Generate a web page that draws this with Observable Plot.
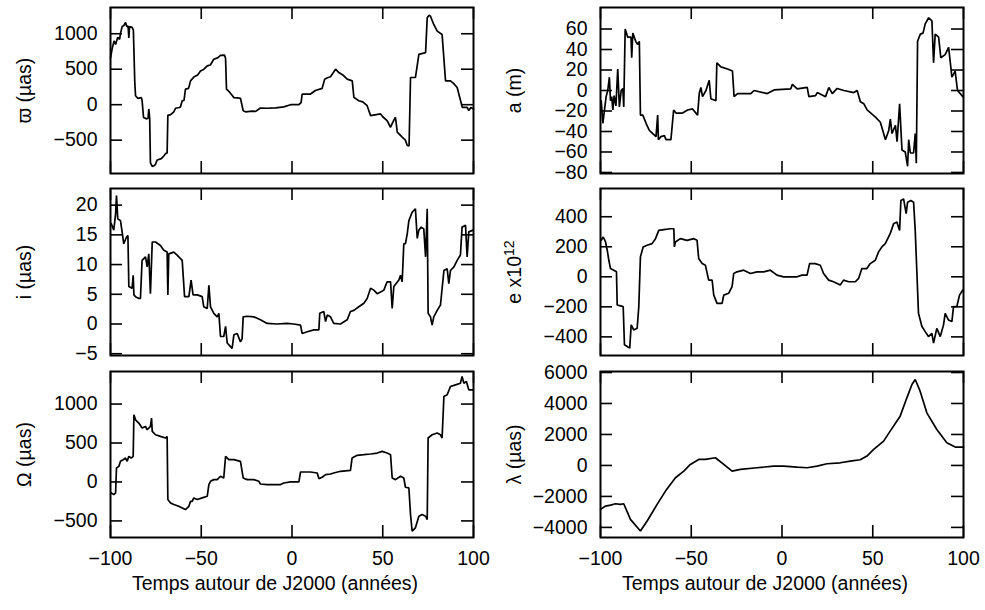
<!DOCTYPE html>
<html><head><meta charset="utf-8">
<script src="https://cdn.jsdelivr.net/npm/d3@7"></script>
<script src="https://cdn.jsdelivr.net/npm/@observablehq/plot@0.6"></script>
<style>
body{margin:0;background:#fff;}
#root{position:relative;width:985px;height:610px;overflow:hidden;font-family:"Liberation Sans",Arial,Helvetica,sans-serif;}
#root svg{position:absolute;}
</style></head><body><div id="root"></div>
<script>
const xTicks = [-100, -50, 0, 50, 100];
const xLabel = "Temps autour de J2000 (années)";

const varpiTicks = [-500, 0, 500, 1000];
const aTicks = [-80, -60, -40, -20, 0, 20, 40, 60];
const iTicks = [-5, 0, 5, 10, 15, 20];
const eTicks = [-400, -200, 0, 200, 400];
const omegaTicks = [-500, 0, 500, 1000];
const lambdaTicks = [-4000, -2000, 0, 2000, 4000, 6000];

// [time (years), value]
const varpiSeries = [[-100,660],[-99,800],[-98,900],[-97.2,850],[-96,950],[-95,920],[-94.5,1000],[-93.6,1100],[-92.5,1120],[-91.7,1160],[-91,1100],[-90.3,1110],[-89.9,940],[-89.5,1100],[-88.1,1090],[-87.4,1050],[-86.6,300],[-86.2,126],[-85,90],[-83,100],[-82.6,60],[-81.8,-180],[-80,-200],[-79.3,-190],[-78.9,-60],[-78.4,-200],[-78,-820],[-77,-870],[-76,-860],[-75.2,-840],[-74.3,-780],[-72,-760],[-70.5,-720],[-69.7,-690],[-68.8,-680],[-68.4,-150],[-66.9,-140],[-65.1,-100],[-64.2,-50],[-62,-40],[-61.4,-30],[-60.5,55],[-59.5,60],[-58.7,220],[-57,230],[-55.9,336],[-54.1,390],[-52,420],[-50.4,476],[-48.5,500],[-46.7,547],[-45,560],[-43.1,640],[-41,660],[-39.4,696],[-37.2,700],[-36.6,650],[-36.1,220],[-34.5,180],[-33.9,160],[-32,100],[-30,95],[-28.4,90],[-26.9,-84],[-25.6,-100],[-22,-90],[-20,-95],[-17.4,-47],[-13.7,-50],[-9,-45],[-4.5,-30],[-0.8,0],[3.8,0],[5,30],[5.6,150],[10.2,150],[12.9,200],[16.6,230],[18,360],[19.5,380],[21.2,393],[24,500],[25.8,453],[28,420],[30.4,360],[33.2,336],[34.1,103],[36.8,56],[39,40],[41.4,-14],[43.3,-154],[48.8,-130],[50,-170],[52.4,-224],[54.3,-318],[55.5,-250],[57,-177],[58,-388],[60.7,-458],[62.5,-500],[63.5,-575],[64.5,-580],[65.3,383],[68,383],[69.9,710],[73.6,733],[74.5,1224],[75.5,1260],[76.3,1247],[78.1,1131],[80,1037],[82.7,990],[84.6,336],[87.3,336],[89,300],[91,243],[93.8,-37],[96.5,-37],[97.4,-84],[98.5,-40],[100,-60]];

const aSeries = [[-99.6,-10],[-98.7,-32],[-97.8,-19],[-96.9,-6],[-96,0],[-95.1,13],[-94.5,-10],[-93.8,-6],[-93.2,-19],[-92.5,-5],[-91.5,-15],[-90.5,21],[-89.6,-16],[-88.6,0],[-87.7,2],[-87.2,-16],[-86.4,60],[-85,52],[-83.2,52],[-82.8,32],[-82.2,56],[-80.4,47],[-79.5,45],[-78.6,48],[-78,-24],[-76.7,-24],[-74.9,-32],[-73.1,-39],[-71.2,-42],[-69.4,-45],[-68.5,-24],[-68.1,-48],[-66.7,-45],[-64.8,-44],[-63.9,-48],[-61.2,-48],[-59.7,-19],[-58.4,-22],[-54.8,-22],[-52,-19],[-49.3,-18],[-46.5,-24],[-45.6,-3],[-44.7,3],[-43.8,-6],[-41.9,0],[-40.1,10],[-39.2,-8],[-36.4,-10],[-35.9,27],[-33.7,23],[-30,21],[-27.3,19],[-26.4,-6],[-24.5,-3],[-17.2,-3],[-15.4,0],[-8.1,-3],[-4.4,0.6],[4.8,1.6],[5.7,6],[8.4,1.6],[13.9,3],[14.8,-6],[18.5,-5],[19.4,-2],[24,-6],[25.8,3],[27.7,-3],[30.4,2],[34.1,0],[39.6,-2],[41.4,0],[43.2,-11],[45.1,-13],[46.9,-19],[49.6,-23],[51.5,-26],[54.2,-31],[56,-42],[57,-48],[58.8,-39],[59.7,-28],[60.6,-42],[62.5,-34],[63.4,-50],[64.8,-13],[66.1,-58],[67.9,-60],[69.2,-74],[69.8,-48],[70.7,-61],[72.5,-61],[73.4,-42],[74,-71],[74.7,48],[76.2,55],[77.7,56],[78.9,65],[80.8,71],[82.6,68],[83.5,27],[84.4,55],[86.3,52],[87.5,32],[89.9,35],[91.8,42],[93,23],[93.6,13],[95.4,19],[96.7,0],[98.2,-3],[99.6,-6]];

const iSeries = [[-99.6,16.9],[-98.2,15.8],[-97.2,18.5],[-96.7,21.6],[-96,17.7],[-94.5,17.4],[-93.6,15.5],[-92.7,13.5],[-91.2,14.6],[-90.4,14.9],[-89.9,6.3],[-88.1,6],[-87.5,8.2],[-87.1,4.9],[-86.2,4.6],[-84.4,4.3],[-83.5,4.3],[-82.6,10.7],[-80.7,11.3],[-79.8,9.6],[-78.9,11.8],[-78,5.1],[-77,13.8],[-75.2,13.8],[-72.5,13.2],[-70.6,12.4],[-68.8,12.1],[-68.4,4.9],[-67.9,11.8],[-65.1,12.1],[-63.3,11.6],[-60.5,10.7],[-59.2,4.6],[-56.8,4.6],[-55.6,7.4],[-54.5,4.9],[-52.2,4.9],[-49.5,4.6],[-48.6,2.9],[-46.7,2.6],[-45.8,6.5],[-44.9,2.9],[-43.1,1.8],[-41.2,1.2],[-40.3,1.8],[-39.4,-2.1],[-37.6,-2.1],[-36.6,-0.4],[-35.7,-3.2],[-33.9,-3.8],[-33,-4.1],[-32,-1.8],[-30.2,-1.6],[-28.4,-3],[-27.5,-2.5],[-26.9,1.2],[-24.7,1.3],[-21,1.2],[-17.4,0.7],[-13.7,0.1],[-8.2,0],[-2.7,0.1],[1,0],[4.7,-0.2],[5.6,-1.6],[8.4,-1.3],[12,-1],[14.8,-1],[15.3,1.8],[17.5,2.1],[18.5,0.4],[19.4,1.5],[21.2,1.2],[23,0.1],[26.7,0],[30.4,0.7],[32.2,2.1],[34.1,2.3],[36.8,2.9],[39.6,3.5],[41.4,4.3],[43.3,6],[45.1,5.7],[46.9,5.1],[48.8,5.4],[50.6,5.7],[52.4,7.1],[54.3,7.1],[55.2,2.6],[56.1,6.3],[58.9,7.4],[59.8,8.2],[60.7,7.1],[61.6,13.5],[62.5,13.5],[63.5,15.2],[64.4,17.4],[66.2,18.8],[68,19.4],[69,14.4],[69.9,15.8],[71.2,16.3],[72.6,16],[73.6,11.3],[74.5,19.4],[75,1.8],[76.3,1.2],[77.2,-0.2],[78.1,1.2],[80,2.3],[81.8,3.2],[83.7,9],[85.5,9.3],[86.4,6.8],[87.3,9],[89.2,9.6],[91,10.7],[92.8,11.6],[93.7,16.3],[95.6,16.6],[96.5,11.3],[97.4,15.5],[99.8,15.8]];

const eSeries = [[-99.6,243],[-98.5,265],[-97.2,232],[-96.3,177],[-95.4,110],[-94.5,55],[-92.7,44],[-91.2,33],[-90.8,-188],[-89,-194],[-87.5,-199],[-86.8,-453],[-85.3,-464],[-83.9,-475],[-83.1,-320],[-81.7,-354],[-79.8,-343],[-78.9,-199],[-78,133],[-76.5,199],[-74.3,210],[-71.6,221],[-69.7,254],[-67.9,309],[-65.1,314],[-61.5,320],[-59.6,320],[-59.3,199],[-58.7,232],[-56,254],[-52.3,243],[-48.6,254],[-46.8,243],[-45.9,122],[-44,88],[-42.2,77],[-40.4,-22],[-38.5,-22],[-37.6,-122],[-35.8,-177],[-33,-177],[-32.1,-122],[-29.4,-110],[-27.5,-66],[-26.6,22],[-24.8,33],[-21.1,44],[-17.4,22],[-13.8,33],[-10.1,33],[-6.4,44],[-2.8,11],[0.9,0],[4.6,0],[8.3,0],[11,11],[13.8,11],[15.2,88],[18.3,88],[21.1,77],[22.9,22],[25.7,-22],[28.4,-33],[32.1,-55],[33.9,-22],[36.7,-33],[40.4,-33],[42.2,-11],[44,55],[46.8,55],[48.6,88],[51.4,110],[53.2,166],[55,199],[56.9,221],[59.6,287],[61.5,354],[63.3,365],[64.8,309],[65.5,508],[67,519],[68.4,420],[69.2,497],[71,508],[72.5,497],[73.4,309],[75.2,-243],[77.1,-331],[78.9,-365],[80.7,-398],[82.6,-376],[83.5,-442],[85.3,-343],[87.2,-398],[89,-320],[89.9,-243],[91.7,-287],[93.6,-298],[94.5,-199],[96.3,-199],[97.8,-122],[99.6,-88]];

const omegaSeries = [[-99.6,-141],[-98.2,-162],[-97.2,-141],[-96.7,179],[-95.4,200],[-94.5,265],[-93,286],[-91.7,307],[-90.8,265],[-89.9,329],[-88.6,307],[-87.5,329],[-87.1,863],[-86.2,798],[-84.4,756],[-82.6,692],[-80.7,713],[-79.8,670],[-78,713],[-77.4,820],[-77,649],[-75.2,606],[-72.5,585],[-69.7,564],[-68.8,585],[-68.4,-226],[-66.9,-269],[-65.1,-290],[-62.4,-312],[-60.5,-333],[-58.7,-354],[-56.8,-312],[-55.9,-248],[-55,-248],[-54.1,-205],[-52.2,-226],[-49.5,-205],[-46.7,-184],[-45.8,-34],[-44.9,9],[-43.1,30],[-41.2,30],[-39.4,73],[-37.6,51],[-36.6,329],[-34.8,286],[-32,286],[-28.4,265],[-26.9,51],[-24.7,30],[-21,30],[-18.3,9],[-17.4,-26],[-13.7,-34],[-10,-34],[-6.3,-34],[-4.5,-13],[-0.8,0],[3.8,0],[4.7,128],[10.2,128],[13.9,115],[14.8,43],[16.6,60],[18.5,94],[21.2,102],[23,115],[26.7,137],[32.2,149],[33.1,307],[35.9,342],[39.6,350],[43.3,359],[46.9,371],[49.7,393],[52.4,371],[54.3,350],[55.2,51],[57,30],[59.8,73],[61.6,51],[62.5,-68],[64.4,-77],[65.3,-418],[66.2,-632],[68,-589],[69.9,-440],[71.7,-418],[73.6,-440],[74.5,-482],[75,564],[77.2,606],[80,628],[81.8,606],[82.7,564],[83.7,1097],[85.5,1119],[87.3,1225],[90.1,1247],[92.8,1268],[93.7,1354],[94.7,1268],[96.1,1290],[97.4,1183],[99.8,1183]];

const lambdaSeries = [[-100,-2838],[-97.2,-2623],[-94.5,-2560],[-91.7,-2473],[-89,-2516],[-87.2,-2473],[-83.5,-3483],[-78,-4236],[-74.3,-3590],[-68.8,-2516],[-64.2,-1656],[-58.7,-796],[-54.1,-366],[-50.5,65],[-45.9,387],[-42.2,387],[-36.7,495],[-32.1,65],[-27.5,-366],[-22.9,-258],[-13.8,-150],[-4.6,-43],[0.9,-43],[8.3,-108],[13.8,-150],[19.3,-43],[24.8,108],[32.1,172],[37.6,280],[43.1,366],[46.8,602],[50.5,1032],[56,1570],[59.6,2215],[65.1,3182],[68.8,4365],[71.6,5225],[73.4,5547],[76.1,4795],[79.8,3397],[85.3,2322],[90.8,1462],[95.4,1183],[100,1183]];

const panels = [
  {series: varpiSeries, domain: [-970, 1370], ticks: varpiTicks, label: "ϖ (µas)", col: 0, row: 0},
  {series: aSeries, domain: [-81, 81], ticks: aTicks, label: "a (m)", col: 1, row: 0},
  {series: iSeries, domain: [-5.3, 22.8], ticks: iTicks, label: "i (µas)", col: 0, row: 1},
  {series: eSeries, domain: [-524, 588], ticks: eTicks, label: "e x10", sup: "12", col: 1, row: 1},
  {series: omegaSeries, domain: [-713, 1418], ticks: omegaTicks, label: "Ω (µas)", col: 0, row: 2},
  {series: lambdaSeries, domain: [-4652, 6065], ticks: lambdaTicks, label: "λ (µas)", col: 1, row: 2}
];

const rows = [
  {top: 0, height: 180, mt: 7, mb: 7},
  {top: 180, height: 182, mt: 8, mb: 7},
  {top: 362, height: 248, mt: 9, mb: 73}
];
const cols = [
  {left: 0, width: 490, ml: 110, mr: 17},
  {left: 490, width: 495, ml: 110, mr: 22}
];
const fmt = d => (d < 0 ? "\u2212" + Math.abs(d) : String(d));
const TL = 12;
const FONT = '"Liberation Sans", Arial, Helvetica, sans-serif';
const root = document.getElementById("root");

for (const p of panels) {
  const r = rows[p.row], c = cols[p.col];
  const fw = c.width - c.ml - c.mr;
  const fh = r.height - r.mt - r.mb;
  const data = p.series.map(([t, v]) => ({t, v}));
  const marks = [
    Plot.line(data, {x: "t", y: "v", stroke: "#000", strokeWidth: 1.7, strokeLinejoin: "miter"}),
    Plot.tickY(p.ticks, {y: d => d, insetRight: fw - TL, stroke: "#000", strokeWidth: 1.6}),
    Plot.tickY(p.ticks, {y: d => d, insetLeft: fw - TL, stroke: "#000", strokeWidth: 1.6}),
    Plot.tickX(xTicks, {x: d => d, insetBottom: fh - TL, stroke: "#000", strokeWidth: 1.6}),
    Plot.tickX(xTicks, {x: d => d, insetTop: fh - TL, stroke: "#000", strokeWidth: 1.6}),
    Plot.frame({stroke: "#000", strokeWidth: 2}),
    Plot.axisY(p.ticks, {tickSize: 0, tickPadding: 13, tickFormat: fmt, label: p.label, labelAnchor: "center", labelArrow: "none", labelOffset: 93})
  ];
  if (p.row === 2) {
    marks.push(Plot.axisX(xTicks, {tickSize: 0, tickPadding: 14, tickFormat: fmt, label: null}));
    marks.push(Plot.text([xLabel], {text: d => d, frameAnchor: "bottom", dx: -17, dy: 46, lineAnchor: "middle", fill: "#000"}));
  }
  const svg = Plot.plot({
    width: c.width, height: r.height,
    marginLeft: c.ml, marginRight: c.mr, marginTop: r.mt, marginBottom: r.mb,
    style: {fontFamily: FONT, fontSize: "19.5px", color: "#000", background: "transparent", overflow: "visible"},
    x: {domain: [-100, 100], axis: p.row === 2 ? undefined : null},
    y: {domain: p.domain},
    marks
  });
  if (p.sup) {
    for (const t of svg.querySelectorAll("text")) {
      if (t.textContent === p.label) {
        const ns = "http://www.w3.org/2000/svg";
        const s = document.createElementNS(ns, "tspan");
        s.setAttribute("dy", "-0.5em");
        s.setAttribute("font-size", "0.72em");
        s.textContent = p.sup;
        t.appendChild(s);
      }
    }
  }
  svg.style.left = c.left + "px";
  svg.style.top = r.top + "px";
  root.appendChild(svg);
}
</script>
</body></html>
